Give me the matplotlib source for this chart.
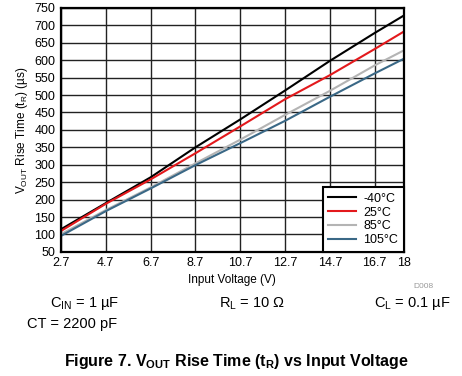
import matplotlib.pyplot as plt

plt.rcParams['font.family'] = ['Liberation Sans', 'DejaVu Sans']
plt.rcParams['mathtext.default'] = 'regular'

voltage = [2.7, 4.7, 6.7, 8.7, 10.7, 12.7, 14.7, 16.7, 18]
rise_m40 = [115, 190, 264, 350, 430, 513, 598, 678, 728]
rise_25 = [110, 188, 258, 333, 410, 488, 557, 632, 682]
rise_85 = [101, 170, 235, 304, 372, 443, 512, 585, 628]
rise_105 = [96, 167, 232, 299, 362, 426, 495, 562, 604]

labels = ['-40°C', '25°C', '85°C', '105°C']
colors = ['#000000', '#e3191c', '#b4b4b4', '#3a6886']
xticks = [2.7, 4.7, 6.7, 8.7, 10.7, 12.7, 14.7, 16.7, 18]
yticks = list(range(50, 751, 50))

fig = plt.figure(figsize=(4.62, 3.76), dpi=100)
ax = fig.add_axes([0.132, 0.330, 0.742, 0.649])

for series, lab, col in zip([rise_m40, rise_25, rise_85, rise_105], labels, colors):
    ax.plot(voltage, series, color=col, lw=1.5, label=lab)

ax.set_xlim(2.7, 18)
ax.set_ylim(50, 750)
ax.set_xticks(xticks)
ax.set_xticklabels(['2.7', '4.7', '6.7', '8.7', '10.7', '12.7', '14.7', '16.7', '18'])
ax.set_yticks(yticks)
ax.tick_params(length=0, labelsize=9, pad=4)
ax.grid(True, color='#222222', lw=1)
ax.set_axisbelow(True)
for s in ax.spines.values():
    s.set_linewidth(1.6)

ax.set_xlabel('Input Voltage (V)', fontsize=8.5, labelpad=3)
ax.set_ylabel('V$_{OUT}$ Rise Time (t$_R$) (µs)', fontsize=8.5, labelpad=3)

leg = ax.legend(loc='lower right', fontsize=9, fancybox=False, framealpha=1,
                edgecolor='black', borderaxespad=0, handlelength=2.2,
                labelspacing=0.15, borderpad=0.45, handletextpad=0.6)
leg.get_frame().set_linewidth(1.5)

fig.text(0.895, 0.235, 'D008', fontsize=6, color='#999999')
fig.text(0.108, 0.183, 'C$_{IN}$ = 1 µF', fontsize=10.5)
fig.text(0.475, 0.183, 'R$_L$ = 10 Ω', fontsize=10.5)
fig.text(0.810, 0.183, 'C$_L$ = 0.1 µF', fontsize=10.5)
fig.text(0.058, 0.128, 'CT = 2200 pF', fontsize=10.5)
fig.text(0.512, 0.026, 'Figure 7. V$_{OUT}$ Rise Time (t$_R$) vs Input Voltage',
         fontsize=11.5, fontweight='bold', ha='center')

fig.savefig('out.png', dpi=100)
